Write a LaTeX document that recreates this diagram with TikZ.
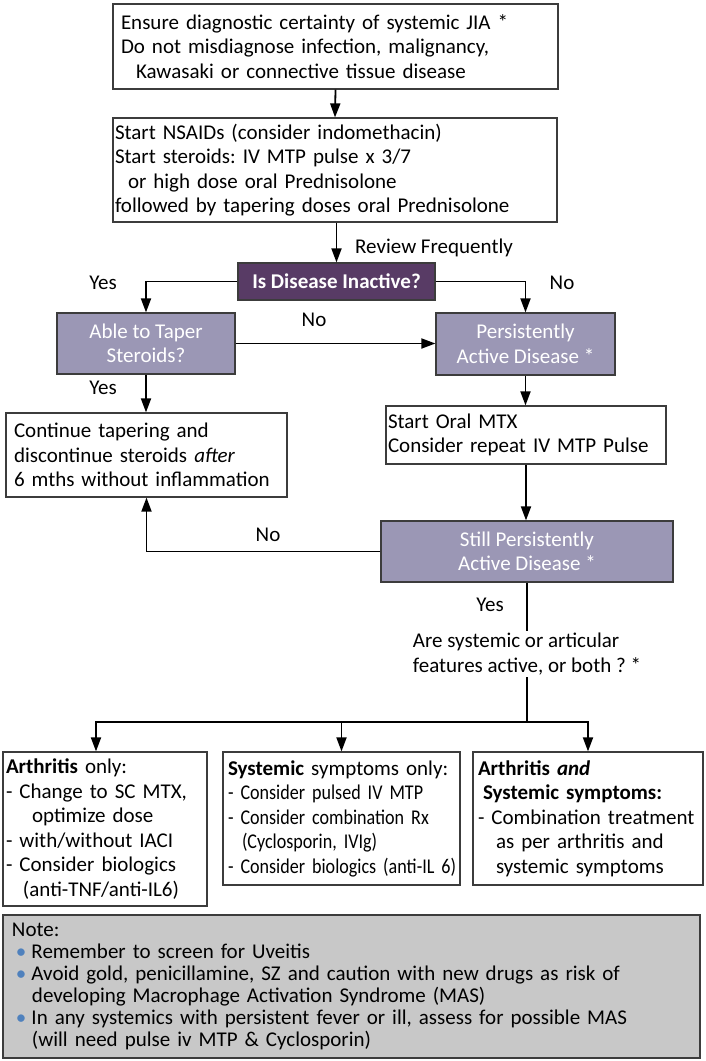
\documentclass[tikz,border=0pt]{standalone}
\usepackage{fontspec}
\setmainfont{Carlito}
\newfontfamily\condfont[FakeStretch=0.86, WordSpace=0.55]{Carlito}
\usetikzlibrary{arrows.meta}
\definecolor{darkpurple}{RGB}{88,59,101}
\definecolor{lightpurple}{RGB}{155,151,181}
\definecolor{notegray}{RGB}{200,200,200}
\definecolor{boxline}{RGB}{60,60,60}
\definecolor{bulletblue}{RGB}{79,129,189}
\newcommand{\nbul}{\textcolor{bulletblue}{\textbullet}\hspace{5pt}}
\frenchspacing
\begin{document}
\frenchspacing
\begin{tikzpicture}[x=1pt,y=-1pt,
  every node/.style={font=\fontsize{21}{24.5}\selectfont\frenchspacing, inner sep=0pt},
  wbox/.style={draw=boxline, line width=1.2pt, fill=white, align=left},
  pbox/.style={draw=boxline, line width=1.2pt, fill=lightpurple, text=white, align=center},
  dbox/.style={draw=boxline, line width=1.2pt, fill=darkpurple, text=white, font=\fontsize{21}{24.5}\selectfont\bfseries\frenchspacing},
  nbox/.style={draw=boxline, line width=1.2pt, fill=notegray, align=left, font=\fontsize{21}{22}\selectfont\frenchspacing},
  conn/.style={line width=1.8pt},
  arr/.style={conn, -{Triangle[length=14pt,width=10pt]}}]
\useasboundingbox (0,0) rectangle (705,1061);

\node[wbox, minimum width=445pt, minimum height=85pt, text width=429pt, inner xsep=8pt] (box1) at (335.5,46.5)
  {Ensure diagnostic certainty of systemic JIA *\\Do not misdiagnose infection, malignancy,\\\hspace*{15pt}Kawasaki or connective tissue disease};
\node[wbox, minimum width=444pt, minimum height=104pt, text width=440pt, inner xsep=2pt] (box2) at (335,170)
  {Start NSAIDs (consider indomethacin)\\Start steroids: IV MTP pulse x 3/7\\\hspace*{13pt}or high dose oral Prednisolone\\followed by tapering doses oral Prednisolone};
\node[dbox, minimum width=197pt, minimum height=37pt] (isq) at (336.5,281.5) {Is Disease Inactive?};
\node[pbox, minimum width=178pt, minimum height=61pt] (taper) at (146,343.5) {Able to Taper\\Steroids?};
\node[pbox, minimum width=179pt, minimum height=62pt] (pers) at (525.5,344) {Persistently\\Active Disease *};
\node[wbox, minimum width=281pt, minimum height=84pt, text width=265pt, inner xsep=8pt] (cont) at (146.5,455)
  {Continue tapering and\\discontinue steroids \textit{after}\\6 mths without inflammation};
\node[wbox, minimum width=280pt, minimum height=58pt, text width=276pt, inner xsep=2pt] (mtx) at (526,435)
  {Start Oral MTX\\Consider repeat IV MTP Pulse};
\node[pbox, minimum width=292pt, minimum height=61pt] (still) at (527,551.5) {Still Persistently\\Active Disease *};
\node[align=left, inner sep=2pt] (q) at (527,654) {Are systemic or articular\\features active, or both ? *};
\coordinate (split) at (527,722);

\node[wbox, minimum width=204pt, minimum height=154pt, text width=198pt, inner xsep=3pt] (boxA) at (105,829)
  {\textbf{Arthritis} only:\\- Change to SC MTX,\\\hspace*{26pt}optimize dose\\- with/without IACI\\- Consider biologics\\\hspace*{17pt}(anti-TNF/anti-IL6)};
\node[wbox, minimum width=237pt, minimum height=133pt, text width=227pt, inner xsep=5pt] (boxB) at (341.5,818.5)
  {\textbf{Systemic} symptoms only:\\\mbox{\condfont - Consider pulsed IV MTP}\\\mbox{\condfont - Consider combination Rx}\\\mbox{\condfont\hspace*{14pt}(Cyclosporin, IVIg)}\\\mbox{\condfont - Consider biologics (anti-IL 6)}};
\node[wbox, minimum width=230pt, minimum height=133pt, text width=220pt, inner xsep=5pt] (boxC) at (588,818.5)
  {\textbf{Arthritis \textit{and}}\\\hspace*{5pt}\textbf{Systemic symptoms:}\\- Combination treatment\\\hspace*{18pt}as per arthritis and\\\hspace*{18pt}systemic symptoms};
\node[nbox, minimum width=697pt, minimum height=143pt, text width=679pt, inner xsep=9pt] (note) at (351.5,986.5)
  {Note:\\\hspace*{4pt}\nbul Remember to screen for Uveitis\\\hspace*{4pt}\nbul Avoid gold, penicillamine, SZ and caution with new drugs as risk of\\\hspace*{20pt}developing Macrophage Activation Syndrome (MAS)\\\hspace*{4pt}\nbul In any systemics with persistent fever or ill, assess for possible MAS\\\hspace*{20pt}(will need pulse iv MTP \& Cyclosporin)};

\node[anchor=west] (rf) at (355,248) {Review Frequently};
\node (yes1) at (103,283) {Yes};
\node (no1) at (562,283) {No};
\node (no2) at (314,320) {No};
\node (yes2) at (103,388) {Yes};
\node (no3) at (268,535) {No};
\node (yes3) at (490,605) {Yes};

\draw[arr] (box1.south) -- (box2.north);
\draw[arr] (box2.south -| isq.north) -- (isq.north);
\draw[arr] (isq.west) -| (taper.north);
\draw[arr] (isq.east) -| (pers.north);
\draw[arr] (taper.east) -- (taper.east -| pers.west);
\draw[arr] (taper.south) -- (taper.south |- cont.north);
\draw[arr] (pers.south) -- (pers.south |- mtx.north);
\draw[arr] (mtx.south) -- (mtx.south |- still.north);
\draw[arr] (still.west) -| (cont.south);
\draw[conn] (still.south) -- (still.south |- q.north);
\draw[conn] (q.south) -- (split);
\draw[arr] (split) -| ([xshift=-9pt]boxA.north);
\draw[arr] (split) -| (boxB.north);
\draw[arr] (split) -| (boxC.north);
\end{tikzpicture}
\end{document}
